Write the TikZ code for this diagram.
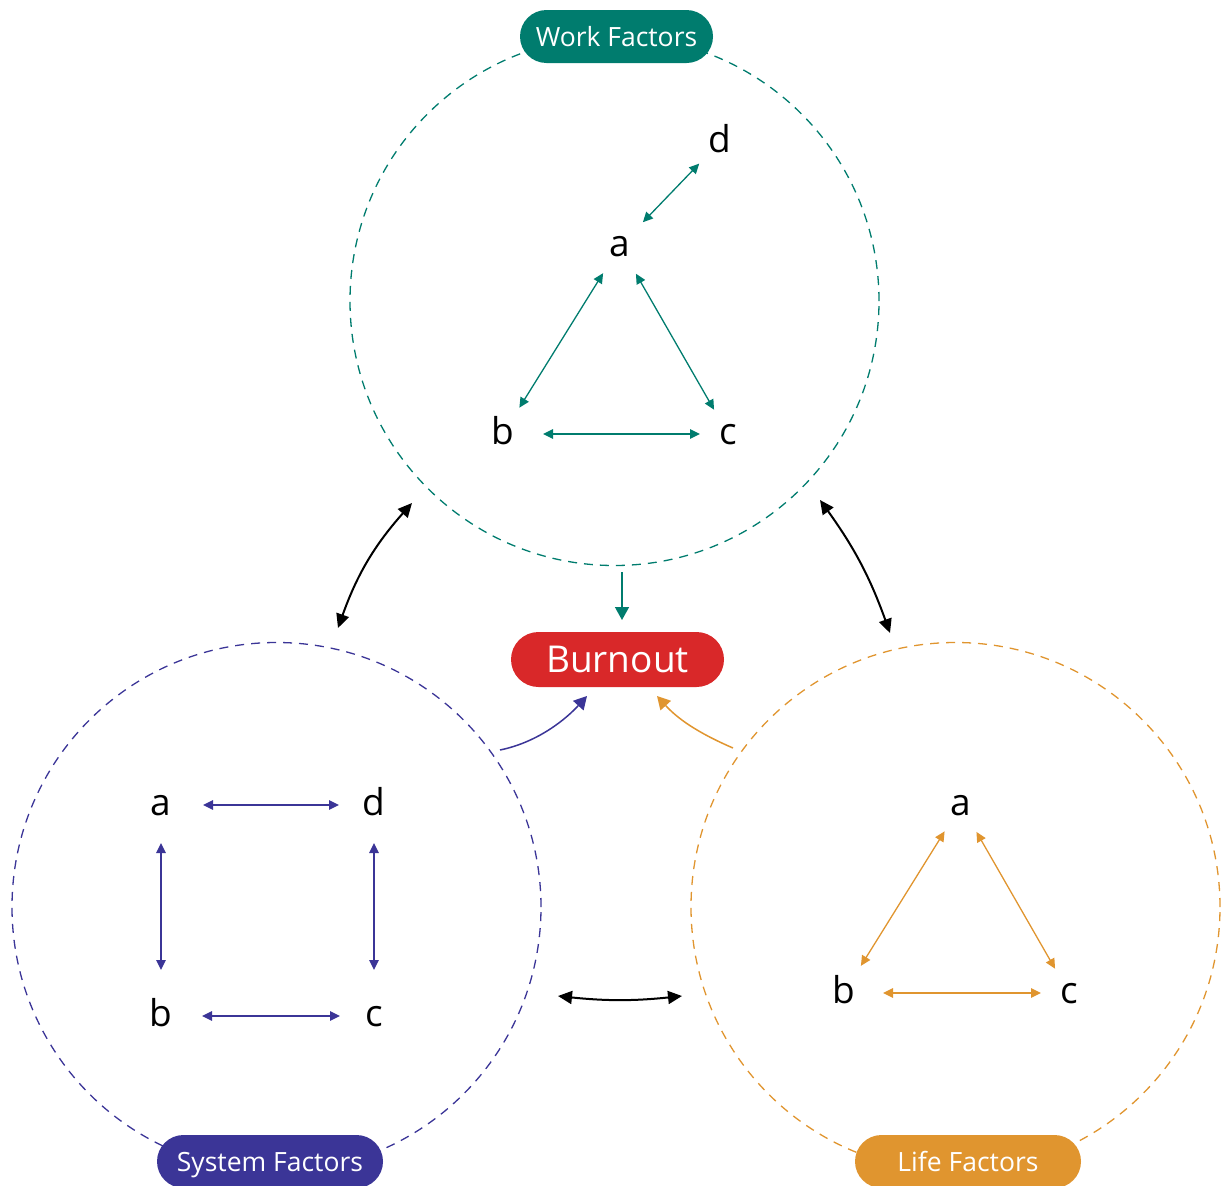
\documentclass[tikz,border=0pt]{standalone}
\usepackage{fontspec}
\setmainfont{Open Sans}
\usetikzlibrary{arrows.meta,calc,shapes.misc}
\definecolor{wcol}{HTML}{007C6E}
\definecolor{scol}{HTML}{3B3597}
\definecolor{lcol}{HTML}{E0952F}
\definecolor{bcol}{HTML}{D92829}
\begin{document}
\begin{tikzpicture}[x=1pt,y=-1pt,
  ring/.style={circle, draw=#1, dash pattern=on 9pt off 7pt, line width=1.3pt, minimum size=529pt, inner sep=0pt},
  pill/.style={rounded rectangle, fill=#1, text=white, minimum height=53pt, inner sep=0pt, text height=19pt, text depth=0pt, font=\fontsize{26.5}{29}\selectfont},
  letter/.style={inner sep=0pt, text height=21.6pt, text depth=0pt, font=\fontsize{37}{40}\selectfont},
  link/.style={draw=#1, line width=1.3pt, {Triangle[length=10pt,width=9.5pt]}-{Triangle[length=10pt,width=9.5pt]}},
  bigarrow/.style={draw=black, line width=2pt, {Triangle[length=14pt,width=13pt]}-{Triangle[length=14pt,width=13pt]}},
  feed/.style={draw=#1, line width=1.5pt, -{Triangle[length=13pt,width=14pt]}}
]
\useasboundingbox (0,0) rectangle (1224,1186);

% rings
\node[ring=wcol] (work) at (614.5,301) {};
\node[ring=scol] (system) at (276.5,907) {};
\node[ring=lcol] (life) at (955.5,907) {};

% work letters
\node[letter] (wd) at (720,142) {d};
\node[letter] (wa) at (620,246) {a};
\node[letter] (wb) at (503,434) {b};
\node[letter] (wc) at (728,434) {c};
\draw[link=wcol, shorten <=30pt, shorten >=33pt] (wd.center) -- (wa.center);
\draw[link=wcol, shorten <=32pt, shorten >=31pt] (wa.center) -- (wb.center);
\draw[link=wcol, shorten <=32pt, shorten >=28pt] (wa.center) -- (wc.center);
\draw[link=wcol, shorten <=40pt, shorten >=28pt] (wb.center) -- (wc.center);

% system letters
\node[letter] (sa) at (161,805) {a};
\node[letter] (sd) at (374,805) {d};
\node[letter] (sb) at (161,1016) {b};
\node[letter] (sc) at (374,1016) {c};
\draw[link=scol, shorten <=42pt, shorten >=35pt] (sa.center) -- (sd.center);
\draw[link=scol, shorten <=38pt, shorten >=46pt] (sa.center) -- (sb.center);
\draw[link=scol, shorten <=38pt, shorten >=46pt] (sd.center) -- (sc.center);
\draw[link=scol, shorten <=41pt, shorten >=34pt] (sb.center) -- (sc.center);

% life letters
\node[letter] (la) at (961,805) {a};
\node[letter] (lb) at (844,993) {b};
\node[letter] (lc) at (1069,993) {c};
\draw[link=lcol, shorten <=31pt, shorten >=32pt] (la.center) -- (lb.center);
\draw[link=lcol, shorten <=31pt, shorten >=28pt] (la.center) -- (lc.center);
\draw[link=lcol, shorten <=39pt, shorten >=28pt] (lb.center) -- (lc.center);

% labels
\node[pill=wcol, minimum width=193pt] (wlabel) at (616.5,36.5) {Work Factors};
\node[pill=scol, minimum width=226pt] (slabel) at (270,1161.5) {System Factors};
\node[pill=lcol, minimum width=226pt] (llabel) at (968,1161.5) {Life Factors};
\node[rounded rectangle, fill=bcol, text=white, minimum width=213pt, minimum height=55pt, inner sep=0pt, font=\fontsize{37}{40}\selectfont] (burnout) at (617.5,659.5) {Burnout};

% black links between rings
\coordinate (ws1) at ($(work.center)+(-202.5,202)$);
\coordinate (ws2) at ($(system.center)+(61.5,-279)$);
\draw[bigarrow] (ws2) to[bend left=11] (ws1);
\coordinate (wl1) at ($(work.center)+(205.5,199)$);
\coordinate (wl2) at ($(life.center)+(-65.5,-274)$);
\draw[bigarrow] (wl1) to[bend left=8] (wl2);
\coordinate (sl1) at ($(system.center)+(281.5,89)$);
\coordinate (sl2) at ($(life.center)+(-273.5,89)$);
\draw[bigarrow] (sl1) to[bend right=6] (sl2);

% feeds into burnout
\coordinate (wst) at ($(work.center)+(7.5,271)$);
\coordinate (wtp) at ($(burnout.center)+(4.5,-39.5)$);
\draw[feed=wcol] (wst) -- (wtp);
\coordinate (pst) at ($(system.center)+(223.5,-157)$);
\coordinate (ptp) at ($(burnout.center)+(-30.5,36.5)$);
\draw[feed=scol] (pst) .. controls ($(pst)+(39,-8)$) and ($(ptp)+(-20,22)$) .. (ptp);
\coordinate (ost) at ($(life.center)+(-222.5,-159)$);
\coordinate (otp) at ($(burnout.center)+(39.5,36.5)$);
\draw[feed=lcol] (ost) .. controls ($(ost)+(-37,-16)$) and ($(otp)+(20,22)$) .. (otp);
\end{tikzpicture}
\end{document}
